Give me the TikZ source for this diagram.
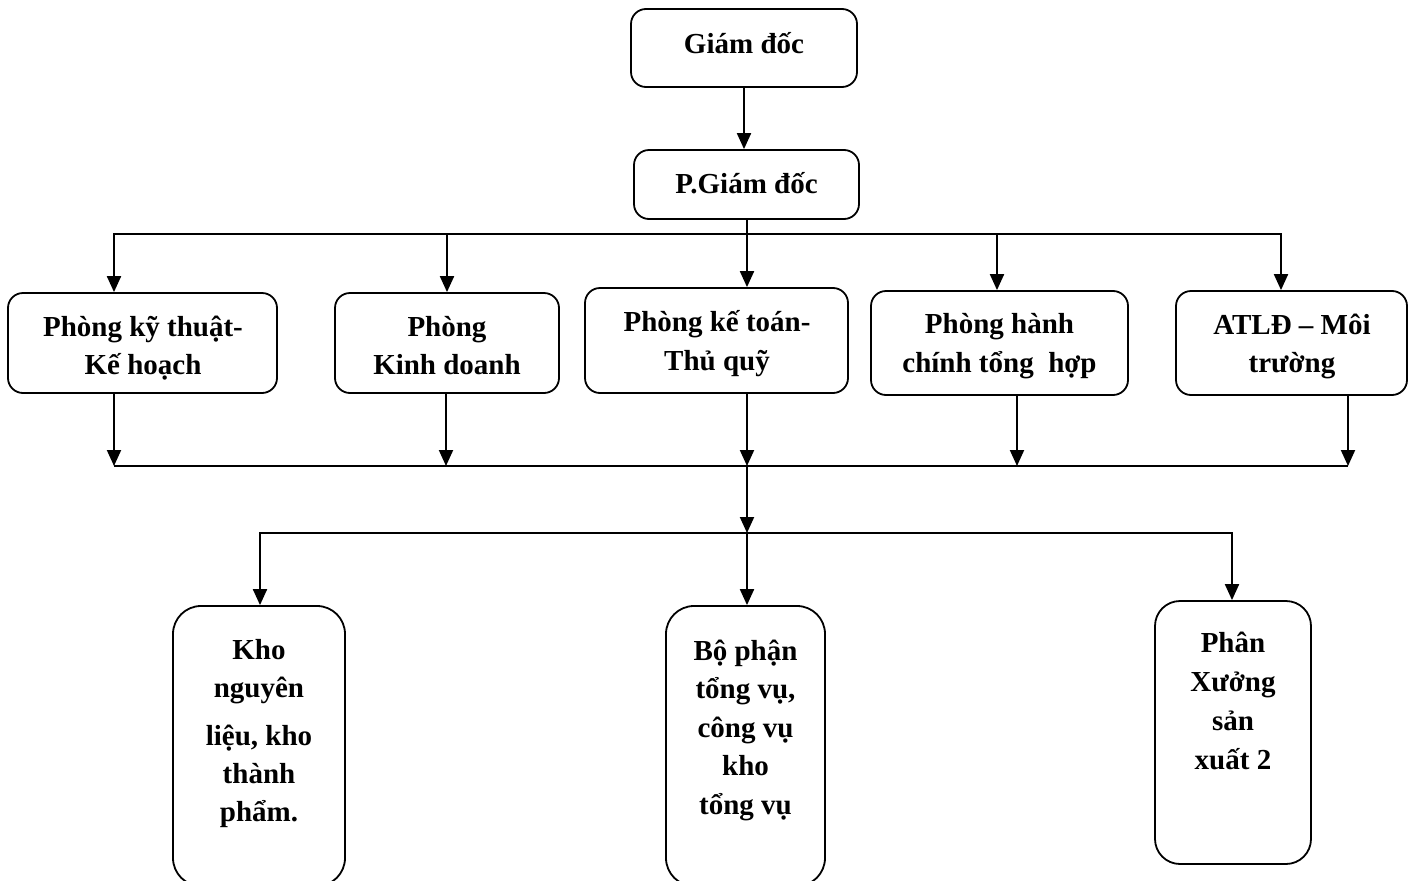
\documentclass[tikz,border=0pt]{standalone}
\usepackage{fontspec}
\setmainfont{Liberation Serif}
\usetikzlibrary{arrows.meta}
\begin{document}
\begin{tikzpicture}[x=1pt,y=-1pt,
  box/.style={draw, line width=1.8pt, rounded corners=15pt, inner sep=0pt, fill=white},
  tallbox/.style={box, rounded corners=28pt},
  txt/.style={font=\fontsize{29}{38}\selectfont\bfseries, align=center, inner sep=0pt, anchor=north},
  link/.style={line width=2pt},
  arr/.style={link, -{Triangle[length=16pt,width=14pt]}}]
\useasboundingbox (0,0) rectangle (1414,881);
\clip (0,0) rectangle (1414,881);

% management
\node[box, minimum width=226pt, minimum height=78pt] (gd) at (744,48) {};
\node[txt, anchor=base] (gdt) at (744,53) {Giám đốc};
\node[box, minimum width=225pt, minimum height=69pt] (pgd) at (746.5,184.5) {};
\node[txt, anchor=base] (pgdt) at (746.5,193) {P.Giám đốc};

% departments
\node[box, minimum width=269pt, minimum height=100pt] (b1) at (142.5,343) {};
\node[txt] (b1t) at (143,310) {\strut Phòng kỹ thuật-\\Kế hoạch};
\node[box, minimum width=224pt, minimum height=100pt] (b2) at (447,343) {};
\node[txt] (b2t) at (447,310) {\strut Phòng\\Kinh doanh};
\node[box, minimum width=263pt, minimum height=105pt] (b3) at (716.5,340.5) {};
\node[txt] (b3t) at (717,305) {\strut Phòng kế toán-\\[1pt]Thủ quỹ};
\node[box, minimum width=257pt, minimum height=104pt] (b4) at (999.5,343) {};
\node[txt] (b4t) at (999.5,307) {\strut Phòng hành\\[1pt]chính tổng~~hợp};
\node[box, minimum width=231pt, minimum height=104pt] (b5) at (1291.5,343) {};
\node[txt] (b5t) at (1292,308) {\strut ATLĐ – Môi\\trường};

% units
\node[tallbox, minimum width=172pt, minimum height=280pt] (k1) at (259,746) {};
\node[txt] (k1t) at (259,632.4) {\strut Kho\\nguyên\\[10pt]liệu, kho\\thành\\phẩm.};
\node[tallbox, minimum width=159pt, minimum height=280pt] (k2) at (745.5,746) {};
\node[txt] (k2t) at (745.5,633.4) {\strut Bộ phận\\[0.5pt]tổng vụ,\\[0.5pt]công vụ\\[0.5pt]kho\\[0.5pt]tổng vụ};
\node[tallbox, rounded corners=25pt, minimum width=156pt, minimum height=263pt] (k3) at (1233,732.5) {};
\node[txt] (k3t) at (1233,625.4) {\strut Phân\\[1pt]Xưởng\\[1pt]sản\\[1pt]xuất 2};

% bus coordinates
\coordinate (t1) at (114,234);
\coordinate (t2) at (447,234);
\coordinate (t3) at (747,234);
\coordinate (t4) at (997,234);
\coordinate (t5) at (1281,234);
\coordinate (u1) at (114,466);
\coordinate (u2) at (446,466);
\coordinate (u3) at (747,466);
\coordinate (u4) at (1017,466);
\coordinate (u5) at (1348,466);
\coordinate (v1) at (260,533);
\coordinate (v2) at (747,533);
\coordinate (v3) at (1232,533);

% top-down links
\draw[arr] (gd.south) -- (gd.south |- pgd.north);
\draw[arr] (pgd.south -| t3) -- (t3 |- b3.north);
\draw[arr] (t3) -- (t1) -- (t1 |- b1.north);
\draw[arr] (t3) -- (t5) -- (t5 |- b5.north);
\draw[arr] (t2) -- (t2 |- b2.north);
\draw[arr] (t4) -- (t4 |- b4.north);

% departments into the lower bus
\draw[link] (u1) -- (u5);
\draw[arr] (b1.south -| u1) -- (u1);
\draw[arr] (b2.south -| u2) -- (u2);
\draw[arr] (b3.south -| u3) -- (u3);
\draw[arr] (b4.south -| u4) -- (u4);
\draw[arr] (b5.south -| u5) -- (u5);

% down to the units
\draw[arr] (u3) -- (v2);
\draw[arr] (v2) -- (v1) -- (v1 |- k1.north);
\draw[arr] (v2) -- (v3) -- (v3 |- k3.north);
\draw[arr] (v2) -- (v2 |- k2.north);
\end{tikzpicture}
\end{document}
